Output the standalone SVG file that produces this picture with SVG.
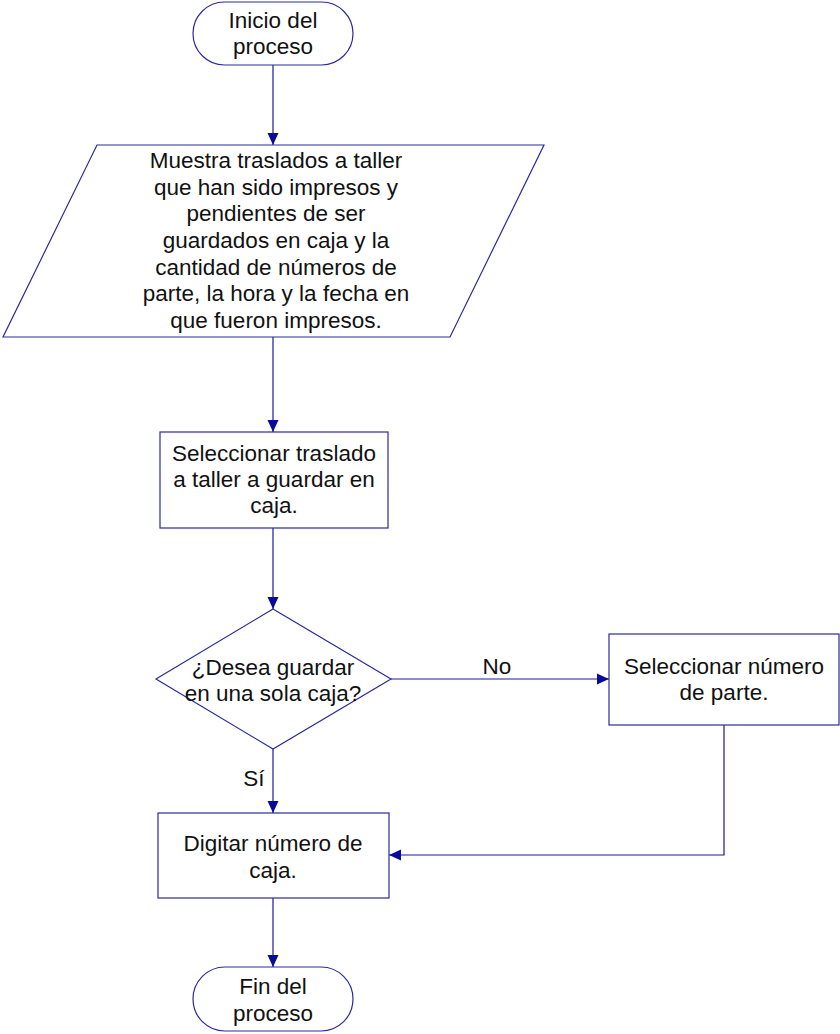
<svg xmlns="http://www.w3.org/2000/svg" width="840" height="1034" viewBox="0 0 840 1034">
  <style>
    .shape { fill: #ffffff; stroke: #2a2aa0; stroke-width: 1.2; }
    .edge { fill: none; stroke: #1a1a9a; stroke-width: 1.2; }
    text { font-family: "Liberation Sans", Arial, sans-serif; font-size: 22.5px; fill: #111111; text-anchor: middle; }
  </style>
  <defs>
    <marker id="arrow" viewBox="0 0 12 12" refX="12" refY="6" markerWidth="12" markerHeight="12" markerUnits="userSpaceOnUse" orient="auto">
      <path d="M0,0.5 L12,6 L0,11.5 Z" fill="#0a0a9a"/>
    </marker>
  </defs>
  <rect width="840" height="1034" fill="#ffffff"/>

  <g id="connectors">
    <line class="edge" x1="273" y1="65" x2="273" y2="145" marker-end="url(#arrow)"/>
    <line class="edge" x1="273" y1="337" x2="273" y2="432" marker-end="url(#arrow)"/>
    <line class="edge" x1="273" y1="528" x2="273" y2="609" marker-end="url(#arrow)"/>
    <line class="edge" x1="391" y1="679" x2="609" y2="679" marker-end="url(#arrow)"/>
    <line class="edge" x1="273" y1="749" x2="273" y2="813" marker-end="url(#arrow)"/>
    <polyline class="edge" points="724,725 724,855 389,855" marker-end="url(#arrow)"/>
    <line class="edge" x1="273" y1="898" x2="273" y2="967" marker-end="url(#arrow)"/>
    <text x="497" y="674">No</text>
    <text x="254" y="786">Sí</text>
  </g>

  <g id="start">
    <rect class="shape" x="193" y="2" width="160" height="63" rx="31.5" ry="31.5"/>
    <text x="273" y="28">Inicio del</text>
    <text x="273" y="54">proceso</text>
  </g>

  <g id="display">
    <polygon class="shape" points="97,145 544,145 450,337 3,337"/>
    <text x="276" y="168">Muestra traslados a taller</text>
    <text x="276" y="195">que han sido impresos y</text>
    <text x="276" y="221">pendientes de ser</text>
    <text x="276" y="248">guardados en caja y la</text>
    <text x="276" y="275">cantidad de números de</text>
    <text x="276" y="301">parte, la hora y la fecha en</text>
    <text x="276" y="328">que fueron impresos.</text>
  </g>

  <g id="select-transfer">
    <rect class="shape" x="160" y="432" width="228" height="96"/>
    <text x="274" y="461">Seleccionar traslado</text>
    <text x="274" y="487">a taller a guardar en</text>
    <text x="274" y="513">caja.</text>
  </g>

  <g id="decision">
    <polygon class="shape" points="273,609 391,679 273,749 156,679"/>
    <text x="273" y="675">¿Desea guardar</text>
    <text x="273" y="701">en una sola caja?</text>
  </g>

  <g id="select-part">
    <rect class="shape" x="609" y="634" width="230" height="91"/>
    <text x="724" y="674">Seleccionar número</text>
    <text x="724" y="700">de parte.</text>
  </g>

  <g id="enter-box">
    <rect class="shape" x="158" y="813" width="231" height="85"/>
    <text x="273" y="851">Digitar número de</text>
    <text x="273" y="878">caja.</text>
  </g>

  <g id="end">
    <rect class="shape" x="193" y="967" width="160" height="64" rx="32" ry="32"/>
    <text x="273" y="994">Fin del</text>
    <text x="273" y="1021">proceso</text>
  </g>
</svg>
